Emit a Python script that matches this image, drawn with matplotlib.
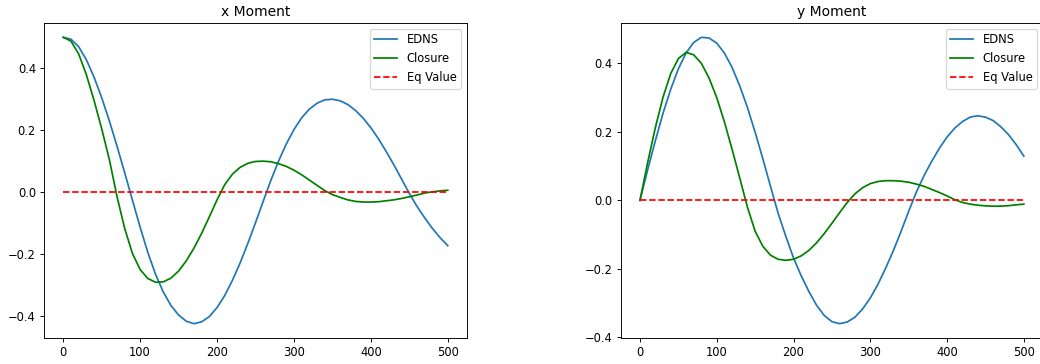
import numpy as np
import matplotlib
matplotlib.use("Agg")
import matplotlib.pyplot as plt

# time steps shared by every series
t = np.arange(0, 501, 10)

# x moment
x_edns = [0.500, 0.494, 0.470, 0.428, 0.372, 0.305, 0.230, 0.148, 0.062, -0.026,
          -0.113, -0.195, -0.265, -0.322, -0.366, -0.397, -0.417, -0.425, -0.419, -0.402,
          -0.373, -0.334, -0.285, -0.229, -0.166, -0.099, -0.030, 0.038, 0.100, 0.155,
          0.202, 0.240, 0.268, 0.287, 0.298, 0.300, 0.295, 0.283, 0.264, 0.239,
          0.208, 0.172, 0.131, 0.088, 0.042, -0.004, -0.046, -0.083, -0.117, -0.147,
          -0.173]
x_closure = [0.500, 0.488, 0.447, 0.380, 0.297, 0.205, 0.105, -0.015, -0.118, -0.198,
             -0.250, -0.279, -0.291, -0.290, -0.278, -0.255, -0.222, -0.181, -0.133, -0.080,
             -0.025, 0.024, 0.058, 0.080, 0.093, 0.099, 0.100, 0.098, 0.092, 0.083,
             0.071, 0.056, 0.039, 0.022, 0.005, -0.008, -0.017, -0.025, -0.030, -0.032,
             -0.032, -0.031, -0.028, -0.025, -0.0205, -0.015, -0.0094, -0.003, 0.001, 0.004,
             0.006]

# y moment
y_edns = [0.000, 0.089, 0.174, 0.254, 0.324, 0.384, 0.430, 0.461, 0.476, 0.474,
          0.459, 0.430, 0.388, 0.334, 0.271, 0.199, 0.122, 0.041, -0.038, -0.105,
          -0.168, -0.220, -0.266, -0.306, -0.336, -0.354, -0.360, -0.355, -0.341, -0.317,
          -0.285, -0.245, -0.198, -0.147, -0.091, -0.032, 0.024, 0.072, 0.114, 0.152,
          0.185, 0.211, 0.230, 0.243, 0.247, 0.243, 0.233, 0.215, 0.192, 0.163,
          0.129]
y_closure = [0.000, 0.110, 0.212, 0.301, 0.370, 0.414, 0.432, 0.425, 0.400, 0.357,
             0.300, 0.229, 0.149, 0.065, -0.020, -0.090, -0.134, -0.160, -0.172, -0.175,
             -0.172, -0.162, -0.146, -0.124, -0.097, -0.067, -0.036, -0.006, 0.019, 0.037,
             0.049, 0.055, 0.0575, 0.0575, 0.056, 0.053, 0.0475, 0.041, 0.032, 0.023,
             0.013, 0.002, -0.006, -0.011, -0.014, -0.016, -0.017, -0.0168, -0.0155, -0.013,
             -0.011]

# equilibrium value
eq_x = [0, 500]
eq_y = [0.0, 0.0]

panels = [("x Moment", x_edns, x_closure), ("y Moment", y_edns, y_closure)]

fig = plt.figure(figsize=(12.5, 4.375), dpi=83.2)
rects = [[0.0423, 0.0714, 0.4067, 0.8654], [0.5969, 0.0714, 0.4060, 0.8654]]

for rect, (title, edns, closure) in zip(rects, panels):
    ax = fig.add_axes(rect)
    ax.plot(t, edns, color="#1f77b4", label="EDNS")
    ax.plot(t, closure, color="green", label="Closure")
    ax.plot(eq_x, eq_y, "r--", label="Eq Value")
    ax.set_title(title)
    ax.set_yticks([-0.4, -0.2, 0.0, 0.2, 0.4])
    ax.legend(loc="upper right")

fig.savefig("out.png", dpi=83.2)
